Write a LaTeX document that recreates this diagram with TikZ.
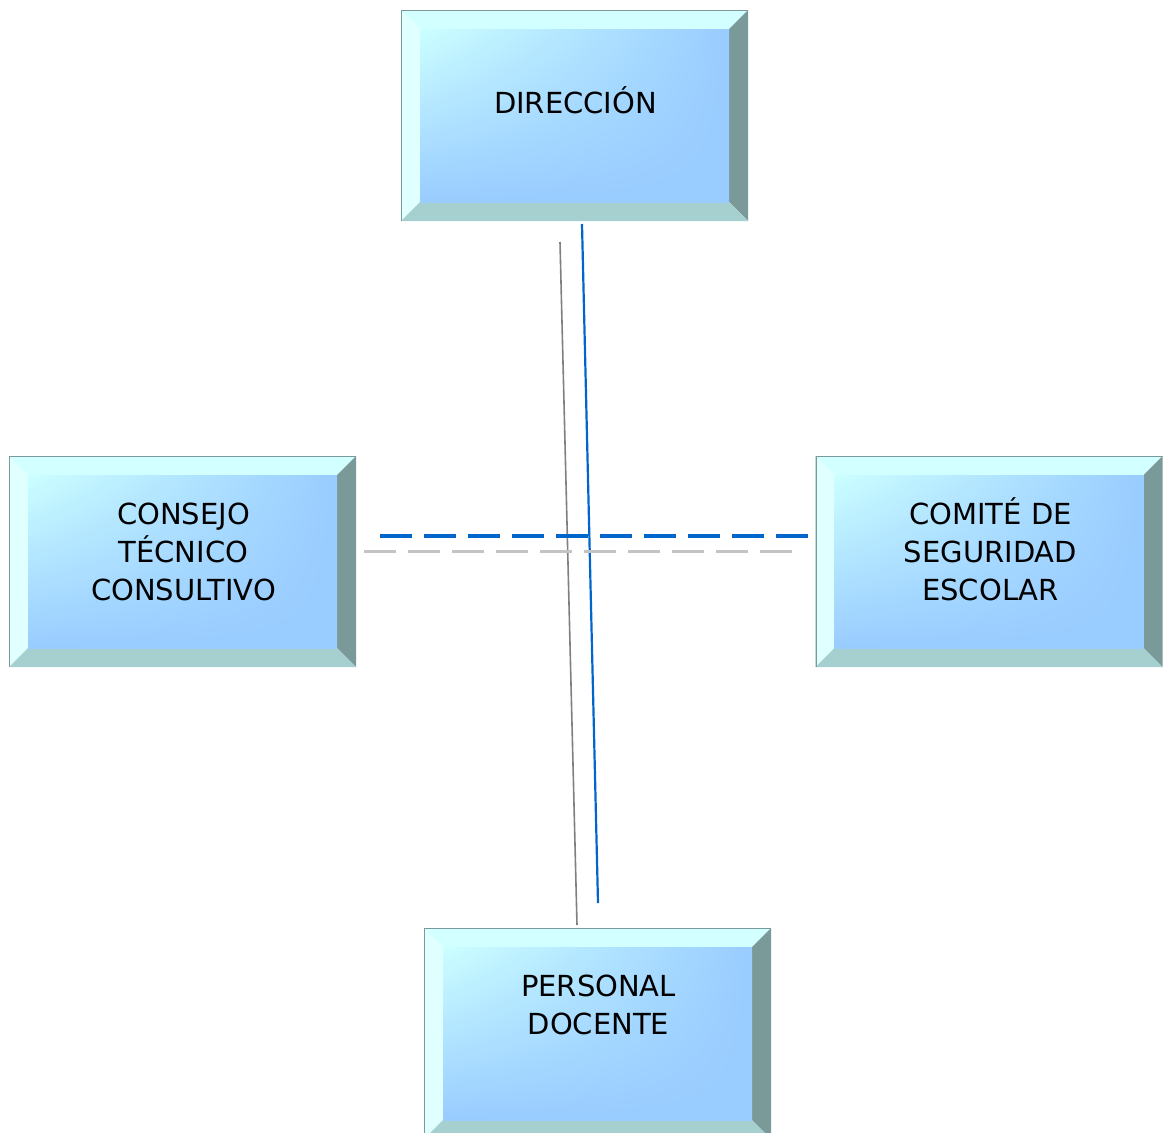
\documentclass[tikz,border=0pt]{standalone}
\usepackage{fontspec}
\setmainfont{DejaVu Sans}
\usetikzlibrary{calc,shadings}
\definecolor{bevTop}{HTML}{D2FFFF}
\definecolor{bevLeft}{HTML}{E0FFFF}
\definecolor{bevRight}{HTML}{7A9A9A}
\definecolor{bevBot}{HTML}{A6CFCF}
\definecolor{faceA}{HTML}{CCFFFF}
\definecolor{faceB}{HTML}{99CCFF}
\definecolor{lineBlue}{HTML}{0066CC}
\definecolor{lineGray}{HTML}{C4C4C4}
\definecolor{lineDark}{HTML}{808080}
\tikzset{
  bevbox/.style={minimum width=347pt, minimum height=211pt, inner sep=0pt, outer sep=0pt,
    path picture={
      \path (path picture bounding box.north west) coordinate (bnw)
            (path picture bounding box.south east) coordinate (bse);
      \path (bse |- bnw) coordinate (bne) (bnw |- bse) coordinate (bsw);
      \path ($(bnw)+(19,19)$) coordinate (inw) ($(bne)+(-19,19)$) coordinate (ine)
            ($(bse)+(-19,-19)$) coordinate (ise) ($(bsw)+(19,-19)$) coordinate (isw);
      \fill[bevTop] (bnw) -- (bne) -- (ine) -- (inw) -- cycle;
      \fill[bevLeft] (bnw) -- (inw) -- (isw) -- (bsw) -- cycle;
      \fill[bevRight] (bne) -- (bse) -- (ise) -- (ine) -- cycle;
      \fill[bevBot] (bsw) -- (isw) -- (ise) -- (bse) -- cycle;
      \shade[upper left=faceA, upper right=faceB, lower left=faceB, lower right=faceB] (inw) rectangle (ise);
      \draw[bevRight, line width=2pt] (bsw) -- (bnw) -- (bne);
    }},
  lbl/.style={inner sep=0pt, align=center, font=\fontsize{29}{38}\selectfont, text=black},
  vblue/.style={draw=lineBlue, line width=2.2pt},
  vgray/.style={draw=lineDark, line width=1.6pt},
  hblue/.style={draw=lineBlue, line width=4pt, dash pattern=on 32pt off 12pt},
  hgray/.style={draw=lineGray, line width=3pt, dash pattern=on 32pt off 12pt}
}
\begin{document}
\begin{tikzpicture}[x=1pt, y=-1pt]
\useasboundingbox[fill=white] (0,0) rectangle (1163,1133);
\node[bevbox] (dir) at (574.5,115.5) {};
\node[bevbox] (con) at (182.5,561.5) {};
\node[bevbox] (com) at (989,561.5) {};
\node[bevbox] (per) at (597.5,1033.5) {};
\node[lbl] (dirt) at (575.5,100.5) {DIRECCIÓN};
\node[lbl] (cont) at (183.5,552) {CONSEJO\\TÉCNICO\\CONSULTIVO};
\node[lbl] (comt) at (990.5,549) {COMITÉ DE\\SEGURIDAD\\ESCOLAR};
\node[lbl] (pert) at (598.5,1005) {PERSONAL\\DOCENTE};
\draw[vgray] ($(dir.south)+(-14.5,21)$) -- ($(per.north)+(-20.5,-3)$);
\draw[vblue] ($(dir.south)+(7.5,3)$) -- ($(per.north)+(0.5,-25)$);
\draw[hgray] ($(con.east)+(8,-10.5)$) -- ($(com.west)+(-24,-10.5)$);
\draw[hblue] ($(con.east)+(24,-25.5)$) -- ($(com.west)+(-8,-25.5)$);
\end{tikzpicture}
\end{document}
